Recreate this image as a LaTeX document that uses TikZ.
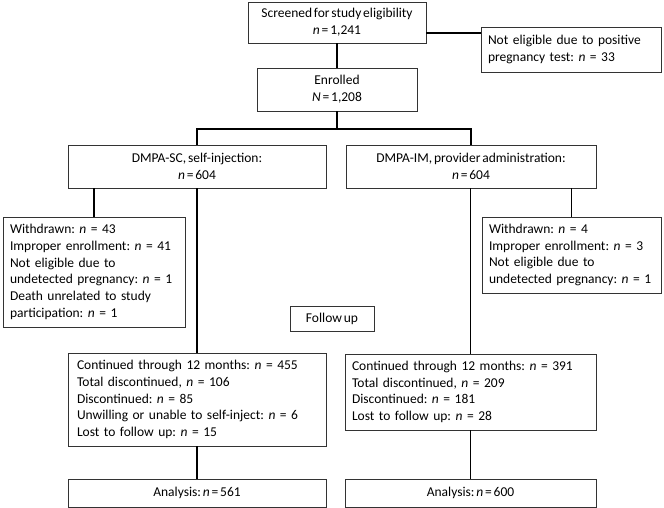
\documentclass[tikz,border=0pt]{standalone}
\usepackage{fontspec}
\setmainfont[WordSpace=0.6]{Carlito}
\usepackage{tikz}
\frenchspacing

\begin{document}
\begin{tikzpicture}[x=1pt,y=-1pt,
  box/.style={draw=black!80,line width=0.8pt,align=center,inner sep=0pt,
    font=\fontsize{13.5}{16.7}\selectfont\frenchspacing},
  lbox/.style={box,align=left,inner xsep=7pt,minimum height=#1},
  link/.style={line width=1.3pt}]
\useasboundingbox (0,0) rectangle (664,508);
\node[box,minimum width=178pt,minimum height=41pt] (scr) at (337,22.5) {Screened for study eligibility\\\textit{n} = 1,241};
\node[lbox=45pt,text width=166pt] (inel) at (571,49.5) {Not eligible due to positive\\pregnancy test: \textit{n} = 33};
\node[box,minimum width=160pt,minimum height=43pt] (enr) at (337,89.5) {Enrolled\\\textit{N} = 1,208};
\node[box,minimum width=258pt,minimum height=43pt] (sc) at (197,166.5) {DMPA-SC, self-injection:\\\textit{n} = 604};
\node[box,minimum width=250pt,minimum height=43pt] (im) at (471,166.5) {DMPA-IM, provider administration:\\\textit{n} = 604};
\node[lbox=110pt,text width=168pt] (wl) at (94,272) {Withdrawn: \textit{n} = 43\\Improper enrollment: \textit{n} = 41\\Not eligible due to\\undetected pregnancy: \textit{n} = 1\\Death unrelated to study\\participation: \textit{n} = 1};
\node[lbox=76pt,text width=165pt] (wr) at (571.5,255) {Withdrawn: \textit{n} = 4\\Improper enrollment: \textit{n} = 3\\Not eligible due to\\undetected pregnancy: \textit{n} = 1};
\node[box,minimum width=84pt,minimum height=25pt] (fu) at (332,318.5) {Follow up};
\node[lbox=93pt,text width=240pt,inner xsep=9pt] (cl) at (197,399.5) {Continued through 12 months: \textit{n} = 455\\Total discontinued, \textit{n} = 106\\Discontinued: \textit{n} = 85\\Unwilling or unable to self-inject: \textit{n} = 6\\Lost to follow up: \textit{n} = 15};
\node[lbox=76pt,text width=237pt] (cr) at (470.5,392) {Continued through 12 months: \textit{n} = 391\\Total discontinued, \textit{n} = 209\\Discontinued: \textit{n} = 181\\Lost to follow up: \textit{n} = 28};
\node[box,minimum width=258pt,minimum height=28pt] (al) at (197,493) {Analysis: \textit{n} = 561};
\node[box,minimum width=251pt,minimum height=28pt] (ar) at (470.5,493) {Analysis: \textit{n} = 600};
\coordinate (split) at (337,129);
\draw[link] (scr) -- (enr);
\draw[link] ([yshift=-10.5pt]scr.east) -- ([yshift=-10.5pt]scr.east -| inel.west);
\draw[link] (enr) -- (split);
\draw[link] (sc.north) |- (split) -| (im.north);
\draw[link] (sc.south -| wl.north) -- (wl.north);
\draw[link] (im.south -| wr.north) -- (wr.north);
\draw[link] (sc) -- (cl);
\draw[link] (im.south -| cr.north) -- (cr.north);
\draw[link] (cl) -- (al);
\draw[link] (cr) -- (ar);
\end{tikzpicture}
\end{document}
